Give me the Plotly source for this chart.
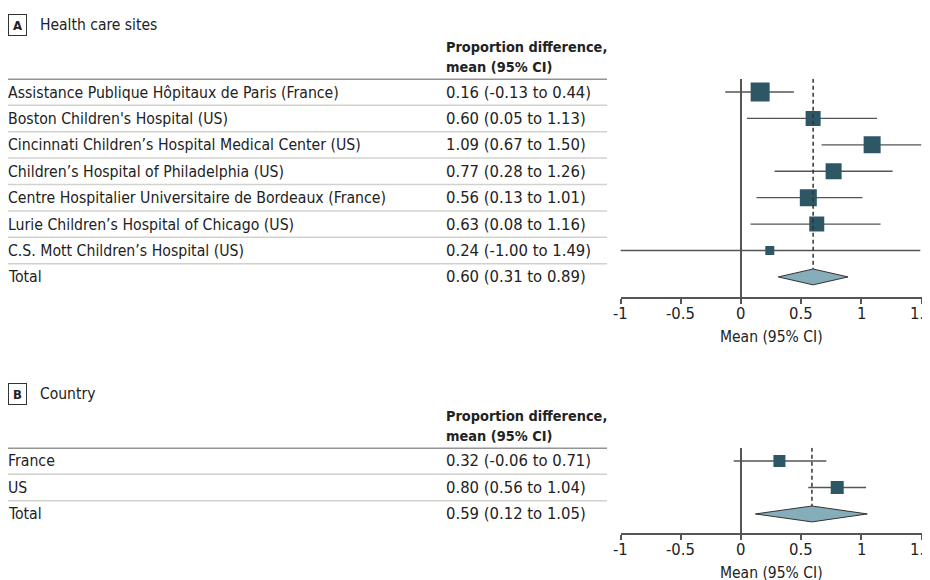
import plotly.graph_objects as go

W, H = 930, 580
OFF = 8  # page body margin
FONT = "Liberation Sans Narrow, DejaVu Sans Condensed, Arial Narrow, sans-serif"
TXT = "#222222"

# ---------------- data ----------------
sites = [
    "Assistance Publique Hôpitaux de Paris (France)",
    "Boston Children's Hospital (US)",
    "Cincinnati Children’s Hospital Medical Center (US)",
    "Children’s Hospital of Philadelphia (US)",
    "Centre Hospitalier Universitaire de Bordeaux (France)",
    "Lurie Children’s Hospital of Chicago (US)",
    "C.S. Mott Children’s Hospital (US)",
]
site_mean = [0.16, 0.60, 1.09, 0.77, 0.56, 0.63, 0.24]
site_lo = [-0.13, 0.05, 0.67, 0.28, 0.13, 0.08, -1.00]
site_hi = [0.44, 1.13, 1.50, 1.26, 1.01, 1.16, 1.49]
site_weight = [19, 15, 17, 16, 17, 15, 9]
site_total = (0.60, 0.31, 0.89)

countries = ["France", "US"]
country_mean = [0.32, 0.80]
country_lo = [-0.06, 0.56]
country_hi = [0.71, 1.04]
country_weight = [12, 13]
country_total = (0.59, 0.12, 1.05)

tick_vals = [-1, -0.5, 0, 0.5, 1, 1.5]
tick_text = ["-1", "-0.5", "0", "0.5", "1", "1.5"]

SQ = "#2d5765"
DIA = "#86adba"
LINE = "#555555"

S_LAB = 15.7
S_VAL = 16.5
S_HDR = 14.4


def px(x):
    return (x - OFF) / W


def py(y):
    return 1 - (y - OFF) / H


def fmt(m, lo, hi):
    return f"{m:.2f} ({lo:.2f} to {hi:.2f})"


fig = go.Figure()


def panel(idx, letter, title, labels, means, los, his, weights, total,
          ydom_px, yrange):
    xa = "x" if idx == 1 else f"x{idx}"
    ya = "y" if idx == 1 else f"y{idx}"
    n = len(labels)
    rows = list(range(n))
    # CI + squares
    fig.add_trace(go.Scatter(
        x=means, y=rows, mode="markers", xaxis=xa, yaxis=ya,
        marker=dict(symbol="square", size=weights, color=SQ, opacity=1,
                    line=dict(width=0)),
        error_x=dict(type="data", symmetric=False,
                     array=[h - m for h, m in zip(his, means)],
                     arrayminus=[m - l for m, l in zip(means, los)],
                     color=LINE, thickness=1.4, width=0),
        showlegend=False, hoverinfo="skip"))
    tm, tl, th = total
    dh = 0.3
    # reference dashed line at pooled mean
    fig.add_trace(go.Scatter(
        x=[tm, tm], y=[yrange[1], n - dh], mode="lines", xaxis=xa, yaxis=ya,
        line=dict(color="#333333", width=1.5, dash="4px,3px"),
        showlegend=False, hoverinfo="skip"))
    # diamond
    fig.add_trace(go.Scatter(
        x=[tl, tm, th, tm, tl], y=[n, n - dh, n, n + dh, n], mode="lines",
        fill="toself", fillcolor=DIA, xaxis=xa, yaxis=ya,
        line=dict(color="#333333", width=1),
        showlegend=False, hoverinfo="skip"))

    top, bot = ydom_px
    fig.update_layout({
        ("xaxis" if idx == 1 else f"xaxis{idx}"): dict(
            domain=[px(620.5), px(921.5)], anchor=ya, range=[-1, 1.5],
            tickvals=tick_vals, showticklabels=False, showgrid=False,
            zeroline=True, zerolinecolor=LINE, zerolinewidth=1.5,
            showline=True, linecolor=LINE, linewidth=1.5,
            ticks="outside", ticklen=5, tickcolor=LINE, tickwidth=1.5,
            automargin=False, fixedrange=True),
        ("yaxis" if idx == 1 else f"yaxis{idx}"): dict(
            domain=[py(bot), py(top)], anchor=xa, range=yrange,
            visible=False, fixedrange=True, automargin=False),
    })
    # tick labels placed on the axis scale
    for v, t in zip(tick_vals, tick_text):
        fig.add_annotation(x=v, xref=xa, y=py(bot + 16), yref="paper", text=t,
                           xanchor="center", yanchor="middle", showarrow=False,
                           font=dict(family=FONT, size=16.5, color=TXT))
    fig.add_annotation(x=px(771), xref="paper", y=py(bot + 40), yref="paper",
                       text="Mean (95% CI)", xanchor="center", yanchor="middle",
                       showarrow=False, font=dict(family=FONT, size=15.5, color=TXT))

    # table text
    all_labels = labels + ["Total"]
    vals = [fmt(m, l, h) for m, l, h in zip(means, los, his)] + [fmt(*total)]
    for i, (lab, v) in enumerate(zip(all_labels, vals)):
        fig.add_annotation(x=px(6), xref="paper", y=i, yref=ya, text=lab,
                           xanchor="left", yanchor="middle", showarrow=False,
                           font=dict(family=FONT, size=S_LAB, color=TXT))
        fig.add_annotation(x=px(444), xref="paper", y=i, yref=ya, text=v,
                           xanchor="left", yanchor="middle", showarrow=False,
                           font=dict(family=FONT, size=S_VAL, color=TXT))
    # separators
    fig.add_shape(type="line", xref="paper", yref=ya, x0=px(8), x1=px(607),
                  y0=-0.5, y1=-0.5, line=dict(color="#2a2a2a", width=1.5))
    for i in range(n):
        fig.add_shape(type="line", xref="paper", yref=ya, x0=px(8), x1=px(607),
                      y0=i + 0.5, y1=i + 0.5, line=dict(color="#d2d2cc", width=1.5))
    # headers
    fig.add_annotation(x=px(444), xref="paper", y=py(top - 32), yref="paper",
                       text="<b>Proportion difference,</b>", xanchor="left",
                       yanchor="middle", showarrow=False,
                       font=dict(family=FONT, size=S_HDR, color=TXT))
    fig.add_annotation(x=px(444), xref="paper", y=py(top - 12), yref="paper",
                       text="<b>mean (95% CI)</b>", xanchor="left",
                       yanchor="middle", showarrow=False,
                       font=dict(family=FONT, size=S_HDR, color=TXT))
    fig.add_annotation(x=px(8), xref="paper", y=py(top - 54), yref="paper",
                       text=f"<b>{letter}</b>", xanchor="left", yanchor="middle",
                       showarrow=False, bordercolor="#333333", borderwidth=1,
                       borderpad=2, width=13, height=16,
                       font=dict(family=FONT, size=13, color=TXT))
    fig.add_annotation(x=px(38), xref="paper", y=py(top - 54), yref="paper",
                       text=title, xanchor="left", yanchor="middle",
                       showarrow=False, font=dict(family=FONT, size=15.5, color=TXT))


panel(1, "A", "Health care sites", sites, site_mean, site_lo, site_hi,
      site_weight, site_total, (78.8, 297), [7.76, -0.5])
panel(2, "B", "Country", countries, country_mean, country_lo, country_hi,
      country_weight, country_total, (447.75, 533), [2.72, -0.5])

fig.update_layout(width=W, height=H,
                  margin=dict(l=0, r=0, t=0, b=0, autoexpand=False),
                  paper_bgcolor="white", plot_bgcolor="white",
                  font=dict(family=FONT, color=TXT))

fig.write_html("out.html")
